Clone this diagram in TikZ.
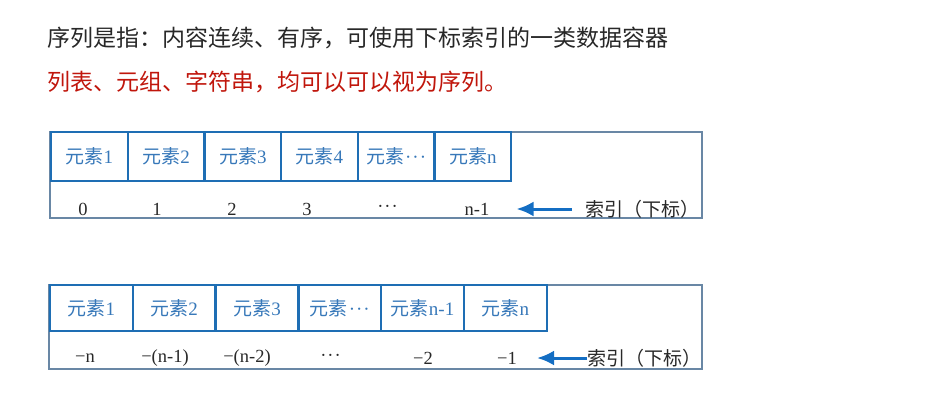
\documentclass[tikz,border=0pt]{standalone}
\usepackage{fontspec}
\setmainfont{Liberation Serif}
\newfontfamily\cjk{Noto Sans CJK SC}
\usepackage{tikz}
\usetikzlibrary{
  arrows.meta,
  positioning,
}
\definecolor{ink}{RGB}{40, 40, 40}
\definecolor{seqred}{RGB}{192, 22, 12}
\definecolor{boxblue}{RGB}{30, 110, 180}
\definecolor{elemblue}{RGB}{55, 120, 185}
\definecolor{framegray}{RGB}{105, 135, 165}
\definecolor{arrowblue}{RGB}{20, 110, 195}
\newcommand{\middots}{\kern1pt·\kern1pt·\kern1pt·}
\newcommand{\lowdots}{\raisebox{-3pt}{\middots}}
\tikzstyle{frame} = [
  rectangle,
  draw=framegray,
  line width=1.3pt,
  inner sep=0pt,
  outer sep=0pt,
]
\tikzstyle{elem} = [
  rectangle,
  draw=boxblue,
  line width=2.4pt,
  inner sep=0pt,
  outer sep=0pt,
  text=elemblue,
  font=\fontsize{19}{21}\selectfont,
]
\tikzstyle{idx} = [
  inner sep=0pt,
  text=ink,
  font=\fontsize{18.5}{20}\selectfont,
]
\tikzstyle{arrow} = [
  -{Latex[length=17pt,width=15pt]},
  line width=3pt,
  arrowblue,
]

\begin{document}
\begin{tikzpicture}[x=1pt,y=-1pt]
  \useasboundingbox (0,0) rectangle (948,407);

  \node[anchor=west,inner sep=0pt,text=ink] (intro) at (47,38) {\cjk\fontsize{23}{26}\selectfont 序列是指：内容连续、有序，可使用下标索引的一类数据容器};
  \node[anchor=west,inner sep=0pt,text=seqred] (kinds) at (47,82) {\cjk\fontsize{23}{26}\selectfont 列表、元组、字符串，均可以可以视为序列。};

  % positive index
  \node[frame,minimum width=652,minimum height=86] (frameA) at (376,175) {};
  \node[elem,minimum width=76.7,minimum height=49] (a1) at (89.35,156.5) {{\cjk 元素}1};
  \node[elem,minimum width=76.7,minimum height=49] (a2) [right=0pt of a1] {{\cjk 元素}2};
  \node[elem,minimum width=76.7,minimum height=49] (a3) [right=0pt of a2] {{\cjk 元素}3};
  \node[elem,minimum width=76.7,minimum height=49] (a4) [right=0pt of a3] {{\cjk 元素}4};
  \node[elem,minimum width=76.7,minimum height=49] (a5) [right=0pt of a4] {{\cjk 元素}\middots};
  \node[elem,minimum width=76.7,minimum height=49] (a6) [right=0pt of a5] {{\cjk 元素}n};

  \node[idx] (p1) at (83,209) {0};
  \node[idx] (p2) at (157,209) {1};
  \node[idx] (p3) at (232,209) {2};
  \node[idx] (p4) at (307,209) {3};
  \node[idx] (p5) at (387,209) {\lowdots};
  \node[idx] (p6) at (477,209) {n-1};
  \node[idx,anchor=west] (pidx) at (585,209) {\cjk\fontsize{19}{21}\selectfont 索引（下标）};

  \draw[arrow,shorten <=13pt,shorten >=27pt] (pidx.west) -- (p6.east);

  % negative index
  \node[frame,minimum width=653,minimum height=84] (frameB) at (375.5,327) {};
  \node[elem,minimum width=82.8,minimum height=46] (b1) at (91.4,308) {{\cjk 元素}1};
  \node[elem,minimum width=82.8,minimum height=46] (b2) [right=0pt of b1] {{\cjk 元素}2};
  \node[elem,minimum width=82.8,minimum height=46] (b3) [right=0pt of b2] {{\cjk 元素}3};
  \node[elem,minimum width=82.8,minimum height=46] (b4) [right=0pt of b3] {{\cjk 元素}\middots};
  \node[elem,minimum width=82.8,minimum height=46] (b5) [right=0pt of b4] {{\cjk 元素}n-1};
  \node[elem,minimum width=82.8,minimum height=46] (b6) [right=0pt of b5] {{\cjk 元素}n};

  \node[idx] (n1) at (85,358) {−n};
  \node[idx] (n2) at (165,358) {−(n-1)};
  \node[idx] (n3) at (247,358) {−(n-2)};
  \node[idx] (n4) at (330,358) {\lowdots};
  \node[idx] (n5) at (423,358) {−2};
  \node[idx] (n6) at (507,358) {−1};
  \node[idx,anchor=west] (nidx) at (587,358) {\cjk\fontsize{19}{21}\selectfont 索引（下标）};

  \draw[arrow,shorten >=20pt] (nidx.west) -- (n6.east);
\end{tikzpicture}
\end{document}
